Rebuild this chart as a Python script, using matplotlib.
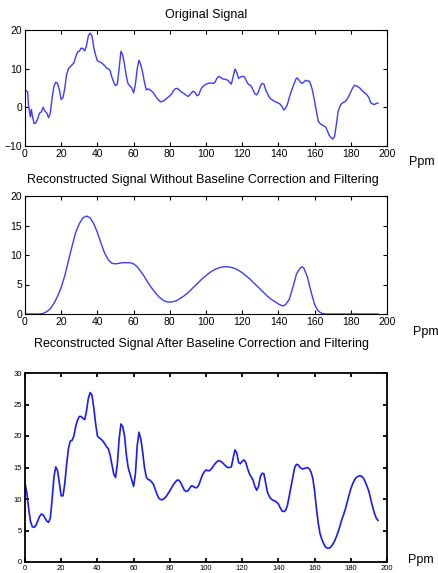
import matplotlib
matplotlib.use("Agg")
import matplotlib.pyplot as plt

plt.rcParams['font.family'] = ['Liberation Sans', 'DejaVu Sans']

# Original signal (ppm, intensity)
orig_x = [0, 1, 1.5, 2, 2.5, 3, 3.5, 4, 5, 6, 7, 8, 9, 10, 11, 12, 13, 14, 15, 16,
          17, 18, 19, 20, 21, 22, 23, 24, 25, 26, 27, 28, 29, 30, 31, 32, 33, 34, 35, 36,
          37, 38, 39, 40, 41, 42, 43, 44, 45, 46, 47, 48, 49, 50, 51, 52, 53, 54, 55, 56,
          57, 58, 59, 60, 61, 62, 63, 64, 65, 66, 67, 68, 69, 70, 71, 72, 73, 74, 75, 76,
          77, 78, 80, 81, 82, 83, 84, 85, 86, 88, 90, 91, 92, 93, 94, 95, 96, 97, 98, 100,
          102, 104, 105, 106, 107, 108, 109, 110, 111, 112, 113, 114, 115, 116, 117, 118, 119, 120, 121, 122,
          123, 124, 125, 126, 127, 128, 129, 130, 131, 132, 133, 134, 135, 136, 137, 138, 140, 141, 142, 143,
          144, 145, 146, 147, 148, 149, 150, 151, 152, 153, 154, 155, 156, 157, 158, 159, 160, 161, 162, 163,
          164, 165, 166, 167, 168, 169, 170, 171, 172, 173, 174, 175, 176, 177, 178, 179, 180, 181, 182, 183,
          184, 185, 186, 187, 188, 189, 190, 191, 192, 193, 194, 195]
orig_y = [4.5, 4.2, 4.0, 0.0, -1.0, -2.5, -0.5, -2.0, -4.2, -4.0, -3.0, -1.5, -1.2, 0.0, -1.0, -1.4, -2.7, -1.5, 2.5, 5.5,
          6.5, 6.2, 4.5, 2.0, 2.5, 5.0, 8.5, 10.0, 10.5, 11.0, 11.5, 13.0, 14.3, 14.5, 15.3, 15.2, 14.6, 16.0, 18.5, 19.2,
          18.5, 15.5, 13.5, 12.0, 11.8, 11.6, 11.2, 10.8, 10.2, 10.0, 9.5, 7.8, 6.5, 5.6, 6.0, 10.0, 14.5, 13.5, 11.0, 8.0,
          6.0, 5.5, 5.0, 3.7, 6.0, 10.0, 12.2, 11.0, 9.0, 6.5, 4.5, 4.8, 4.5, 4.2, 3.7, 3.0, 2.3, 1.8, 1.4, 1.6,
          1.8, 2.2, 3.0, 3.5, 4.3, 4.8, 4.9, 4.6, 4.1, 3.5, 2.8, 3.2, 3.8, 4.2, 3.8, 3.0, 3.2, 4.5, 5.3, 6.0,
          6.3, 6.2, 6.5, 7.5, 8.0, 7.8, 7.4, 7.3, 7.2, 7.0, 6.5, 6.0, 8.0, 9.9, 9.0, 7.5, 7.8, 8.0, 8.0, 7.2,
          6.2, 5.8, 5.5, 4.5, 3.5, 3.2, 4.0, 5.5, 6.2, 6.0, 4.5, 3.5, 2.6, 2.1, 1.8, 1.5, 1.1, 0.8, 0.2, -0.7,
          -0.2, 0.8, 2.5, 4.0, 5.3, 6.5, 7.6, 7.3, 6.6, 6.2, 6.5, 7.0, 6.8, 6.8, 5.8, 4.0, 1.5, -1.0, -3.5, -4.2,
          -4.5, -4.8, -5.0, -6.0, -7.2, -7.8, -8.2, -7.6, -4.5, -1.0, 0.3, 1.0, 1.3, 1.5, 2.2, 3.0, 4.0, 5.0, 5.7, 5.6,
          5.3, 5.0, 4.4, 4.0, 3.6, 3.2, 2.5, 1.2, 0.9, 0.7, 1.0, 1.1]

# Reconstructed signal without baseline correction and filtering
raw_x = [0, 2, 4, 6, 8, 10, 12, 14, 16, 18, 20, 22, 24, 26, 28, 30, 32, 34, 36, 38,
         40, 42, 44, 46, 48, 50, 52, 54, 56, 58, 60, 62, 64, 66, 68, 70, 72, 74, 76, 78,
         80, 82, 84, 86, 88, 90, 92, 94, 96, 98, 100, 102, 104, 106, 108, 110, 112, 114, 116, 118,
         120, 122, 124, 126, 128, 130, 132, 134, 136, 138, 140, 142, 143, 144, 146, 148, 150, 152, 153, 154,
         156, 158, 160, 162, 164, 166, 170, 180, 190, 195]
raw_y = [0, 0, 0, 0, 0, 0.1, 0.4, 0.9, 1.8, 3.0, 4.5, 6.5, 9.0, 11.5, 13.8, 15.3, 16.3, 16.6, 16.3, 15.3,
         13.8, 12.0, 10.3, 9.2, 8.6, 8.5, 8.6, 8.7, 8.7, 8.7, 8.5, 8.0, 7.2, 6.3, 5.3, 4.4, 3.6, 2.9, 2.4, 2.1,
         2.0, 2.1, 2.3, 2.7, 3.1, 3.6, 4.2, 4.8, 5.4, 6.0, 6.5, 7.0, 7.4, 7.7, 7.9, 8.0, 8.0, 7.9, 7.7, 7.4,
         7.0, 6.5, 6.0, 5.4, 4.8, 4.2, 3.6, 3.0, 2.5, 2.1, 1.7, 1.4, 1.4, 1.6, 2.5, 4.5, 6.8, 7.8, 8.0, 7.8,
         6.3, 3.8, 1.6, 0.5, 0.1, 0, 0, 0, 0, 0]

# Reconstructed signal after baseline correction and filtering
filt_x = list(range(0, 79)) + [80, 82, 84] + list(range(85, 196))
filt_y = [12.5, 11.0, 8.5, 6.5, 5.6, 5.5, 5.8, 6.5, 7.2, 7.6, 7.5, 7.0, 6.5, 6.3, 7.0, 10.0, 13.5, 15.1, 14.5, 12.5,
          10.5, 10.5, 12.5, 15.5, 18.0, 19.2, 19.3, 20.0, 21.5, 22.5, 23.1, 23.1, 22.8, 22.6, 24.0, 26.0, 26.9, 26.5, 24.5, 22.0,
          20.0, 19.7, 19.5, 19.2, 18.8, 18.3, 18.0, 17.0, 15.5, 14.0, 13.4, 15.5, 19.5, 21.9, 21.5, 20.0, 17.0, 15.0, 14.0, 13.0,
          12.0, 14.0, 18.5, 20.6, 19.5, 17.5, 15.0, 13.5, 13.1, 13.0, 12.7, 12.3, 11.5, 10.7, 10.1, 9.9, 9.9, 10.1, 10.4,
          11.3, 12.3, 13.0,
          13.0, 12.6, 12.0, 11.4, 11.2, 11.3, 11.7, 12.1, 12.0, 11.8, 11.8, 12.2, 13.0, 13.8, 14.3,
          14.6, 14.5, 14.5, 14.8, 15.2, 15.6, 15.9, 16.1, 16.0, 15.8, 15.5, 15.2, 15.0, 15.0, 15.1, 16.5, 17.8, 17.3, 15.8, 15.6,
          16.0, 16.2, 15.8, 14.8, 14.0, 13.5, 13.0, 12.0, 11.4, 12.0, 13.5, 14.1, 14.0, 12.5, 11.0, 10.4, 10.0, 9.8, 9.7, 9.5,
          9.2, 8.6, 8.1, 8.0, 8.2, 9.0, 10.5, 12.0, 13.5, 15.0, 15.5, 15.4, 15.0, 14.8, 14.8, 14.9, 15.0, 14.8, 14.3, 13.3,
          11.3, 8.5, 6.2, 4.5, 3.6, 2.9, 2.4, 2.2, 2.2, 2.4, 2.8, 3.3, 4.0, 4.8, 5.7, 6.7, 7.5, 8.4, 9.5, 10.6,
          11.6, 12.4, 13.0, 13.4, 13.6, 13.7, 13.6, 13.3, 12.7, 12.0, 11.2, 10.0, 8.8, 7.8, 7.0, 6.6]

titles = ["Original Signal",
          "Reconstructed Signal Without Baseline Correction and Filtering",
          "Reconstructed Signal After Baseline Correction and Filtering"]

W, H = 439, 573
fig = plt.figure(figsize=(W / 100, H / 100), dpi=100)
fig.patch.set_facecolor('white')


def px_axes(left, top, right, bottom):
    return fig.add_axes([left / W, 1 - bottom / H, (right - left) / W, (bottom - top) / H])


ax1 = px_axes(25, 30, 387, 146)
ax2 = px_axes(25, 196, 387, 314)
ax3 = px_axes(25, 373, 387, 562)

ax1.plot(orig_x, orig_y, color='#3c3cff', lw=1.0)
ax2.plot(raw_x, raw_y, color='#3c3cff', lw=1.0)
ax3.plot(filt_x, filt_y, color='#1a1af5', lw=1.2)

limits = [(-10, 20, [-10, 0, 10, 20]), (0, 20, [0, 5, 10, 15, 20]), (0, 30, [0, 5, 10, 15, 20, 25, 30])]
for ax, (lo, hi, yt) in zip([ax1, ax2, ax3], limits):
    ax.set_xlim(0, 200)
    ax.set_ylim(lo, hi)
    ax.set_xticks(range(0, 201, 20))
    ax.set_yticks(yt)
    ax.tick_params(direction='in', top=True, right=True, length=3, width=0.8,
                   labelsize=7.5, pad=2, colors='black')
    for s in ax.spines.values():
        s.set_linewidth(0.8)

ax3.tick_params(labelsize=5.5, width=1.3, length=3)
for s in ax3.spines.values():
    s.set_linewidth(1.3)

# titles and axis labels
fig.text(206 / W, 1 - 15 / H, titles[0], ha='center', va='center', fontsize=9)
fig.text(203 / W, 1 - 180 / H, titles[1], ha='center', va='center', fontsize=9)
fig.text(202 / W, 1 - 344 / H, titles[2], ha='center', va='center', fontsize=9)

fig.text(409 / W, 1 - 162 / H, "Ppm", ha='left', va='center', fontsize=9)
fig.text(413 / W, 1 - 332 / H, "Ppm", ha='left', va='center', fontsize=9)
fig.text(408 / W, 1 - 560 / H, "Ppm", ha='left', va='center', fontsize=9)

fig.savefig("out.png", dpi=100)
